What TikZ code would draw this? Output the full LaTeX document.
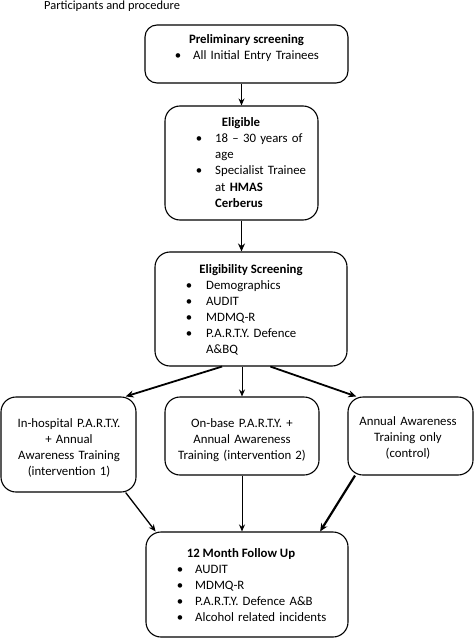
\documentclass[tikz,border=0pt]{standalone}
\usepackage{fontspec}
\setmainfont{Carlito}
\usetikzlibrary{arrows.meta,calc}
\begin{document}
\begin{tikzpicture}[x=1pt,y=-1pt,
  box/.style={draw, line width=1.1pt, rounded corners=12pt, inner sep=0pt},
  txt/.style={font=\fontsize{12.8}{16}\selectfont, inner sep=0pt},
  bold/.style={font=\fontsize{12.8}{16}\selectfont\bfseries, inner sep=0pt, anchor=base},
  lst/.style={txt, anchor=base west, text width=150pt, align=left},
  ctr/.style={txt, anchor=base, text width=134pt, align=center},
  bul/.style={txt, anchor=base, text width=8pt, align=center},
  arr/.style={-{Stealth[length=7pt,width=6pt]}, line width=1pt},
  tarr/.style={-{Stealth[length=8pt,width=7pt]}, line width=1.8pt}]
\useasboundingbox (0,0) rectangle (474,639);

\node[txt, font=\fontsize{12.4}{15}\selectfont, anchor=base west] (title) at (44,9.3) {Participants and procedure};

% boxes
\node[box, minimum width=203pt, minimum height=58pt] (b1) at (246.5,54) {};
\node[box, minimum width=153pt, minimum height=114pt, rounded corners=15pt] (b2) at (241.5,163) {};
\node[box, minimum width=192pt, minimum height=114pt, rounded corners=15pt] (b3) at (251,309) {};
\node[box, minimum width=135pt, minimum height=95pt, rounded corners=15pt] (b4) at (68.5,444.5) {};
\node[box, minimum width=154pt, minimum height=78pt, rounded corners=15pt] (b5) at (242,436) {};
\node[box, minimum width=125pt, minimum height=78pt, rounded corners=15pt] (b6) at (410.5,436) {};
\node[box, minimum width=202pt, minimum height=105pt, rounded corners=15pt] (b7) at (247,584.5) {};

% box 1 text
\node[bold] (t1) at (246.5,43.5) {Preliminary screening};
\node[bul] (u1) at (178,60) {•};
\node[lst] (l1) at (193,60) {All Initial Entry Trainees};

% box 2 text
\node[bold] (t2) at (241,127) {Eligible};
\node[bul] (u2) at (199,143) {•\\\mbox{}\\•};
\node[lst] (l2) at (215,143) {18 – 30 years of\\age\\Specialist Trainee\\at \textbf{HMAS}\\\textbf{Cerberus}};

% box 3 text
\node[bold] (t3) at (251,273.5) {Eligibility Screening};
\node[bul] (u3) at (189,289) {•\\•\\•\\•};
\node[lst] (l3) at (206,289) {Demographics\\AUDIT\\MDMQ-R\\P.A.R.T.Y. Defence\\A\&BQ};

% boxes 4-6 text
\node[ctr] (l4) at (69,427) {In-hospital P.A.R.T.Y.\\+ Annual\\Awareness Training\\(intervention 1)};
\node[ctr] (l5) at (242,427) {On-base P.A.R.T.Y. +\\Annual Awareness\\Training (intervention 2)};
\node[ctr, text width=120pt] (l6) at (408,425) {Annual Awareness\\Training only\\(control)};

% box 7 text
\node[bold] (t7) at (241,557) {12 Month Follow Up};
\node[bul] (u7) at (180,573) {•\\•\\•\\•};
\node[lst] (l7) at (195,573) {AUDIT\\MDMQ-R\\P.A.R.T.Y. Defence A\&B\\Alcohol related incidents};

% connectors
\draw[arr] (b1.south -| b2.north) -- (b2.north);
\draw[tarr] (b2.south) -- (b2.south |- b3.north);
\draw[tarr] ($(b3.south west)!0.35!(b3.south east)$) -- ($(b4.north west)!0.92!(b4.north east)$);
\draw[arr] (b5.north |- b3.south) -- (b5.north);
\draw[tarr] ($(b3.south west)!0.6!(b3.south east)$) -- ($(b6.north west)!0.07!(b6.north east)$);
\draw[arr, line width=1.3pt] ($(b4.south west)!0.92!(b4.south east)$) -- ($(b7.north west)!0.05!(b7.north east)$);
\draw[arr] (b5.south) -- (b5.south |- b7.north);
\draw[tarr, line width=2.2pt] ($(b6.south west)!0.06!(b6.south east)$) -- ($(b7.north west)!0.86!(b7.north east)$);
\end{tikzpicture}
\end{document}
